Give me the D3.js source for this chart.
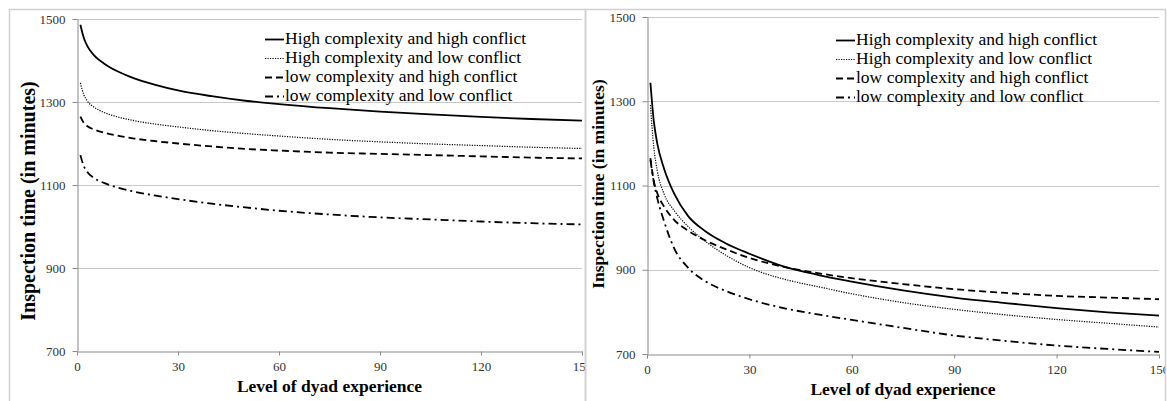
<!DOCTYPE html>
<html>
<head>
<meta charset="utf-8">
<script src="https://cdn.jsdelivr.net/npm/d3@7"></script>
<style>
body { margin: 0; background: #fff; }
svg { display: block; font-family: "Liberation Serif", "Times New Roman", serif; }
</style>
</head>
<body>
<div id="chart"></div>
<script>
// Inspection time curves, two panels

// level of dyad experience where the curves were read
var experience = [1, 2, 3, 5, 8, 12, 17, 23, 30, 40, 50, 60, 75, 90, 105, 120, 135, 150];

var seriesNames = [
    "High complexity and high conflict",
    "High complexity and low conflict",
    "low complexity and high conflict",
    "low complexity and low conflict"
];

// left panel
var leftHighHigh = [1486, 1455, 1436, 1413, 1393, 1374, 1357, 1342, 1328, 1314, 1303, 1295, 1285, 1277, 1270, 1264, 1259, 1255];
var leftHighLow  = [1346, 1318, 1303, 1288, 1275, 1264, 1255, 1247, 1240, 1231, 1224, 1218, 1210, 1204, 1199, 1195, 1191, 1188];
var leftLowHigh  = [1265, 1250, 1242, 1234, 1226, 1219, 1212, 1206, 1200, 1193, 1187, 1183, 1178, 1175, 1172, 1169, 1166, 1164];
var leftLowLow   = [1172, 1146, 1132, 1117, 1105, 1094, 1084, 1075, 1066, 1055, 1046, 1038, 1029, 1022, 1017, 1012, 1008, 1005];

// right panel
var rightHighHigh = [1344, 1252, 1200, 1140, 1080, 1028, 992, 963, 938, 908, 888, 872, 851, 834, 821, 809, 799, 791];
var rightHighLow  = [1291, 1190, 1135, 1080, 1040, 1003, 968, 935, 905, 878, 860, 843, 822, 806, 793, 782, 773, 764];
var rightLowHigh  = [1165, 1110, 1082, 1050, 1018, 993, 970, 949, 928, 907, 892, 880, 866, 854, 845, 838, 834, 830];
var rightLowLow   = [1160, 1108, 1070, 1015, 950, 905, 873, 850, 830, 809, 794, 781, 762, 744, 731, 720, 712, 705];

var xTicks = [0, 30, 60, 90, 120, 150];
var yTicks = [700, 900, 1100, 1300, 1500];

var xTitle = "Level of dyad experience";
var yTitle = "Inspection time (in minutes)";

// line look for each series: solid, dotted, dashed, dash-dot
var dashes = [null, "1.2,1.3", "7,4", "8,4,2,4"];
var widths = [1.8, 1.2, 1.8, 1.8];

var svgWidth = 1167;
var svgHeight = 401;

var svg = d3.select("#chart")
    .append("svg")
    .attr("width", svgWidth)
    .attr("height", svgHeight);

var panels = [
    {
        id: "left",
        frame: { x: 9, y: 9, w: 576, h: 420 },
        plot: { x0: 77, x1: 582, y0: 19, y1: 351 },
        data: [leftHighHigh, leftHighLow, leftLowHigh, leftLowLow],
        yTitleSize: 20, yTitleX: 35, yTitleY: 201,
        xTitleY: 392,
        legendX: 265, legendY: 44
    },
    {
        id: "right",
        frame: { x: 585, y: 9, w: 580, h: 420 },
        plot: { x0: 647, x1: 1159, y0: 17, y1: 354 },
        data: [rightHighHigh, rightHighLow, rightLowHigh, rightLowLow],
        yTitleSize: 17.5, yTitleX: 604, yTitleY: 184,
        xTitleY: 395,
        legendX: 836, legendY: 45
    }
];

panels.forEach(function(p) {
    var clipId = "clip-" + p.id;
    svg.append("clipPath")
        .attr("id", clipId)
        .append("rect")
        .attr("x", p.frame.x)
        .attr("y", p.frame.y)
        .attr("width", p.frame.w)
        .attr("height", p.frame.h);

    var g = svg.append("g").attr("clip-path", "url(#" + clipId + ")");

    var x = d3.scaleLinear().domain([0, 150]).range([p.plot.x0, p.plot.x1]);
    var y = d3.scaleLinear().domain([700, 1500]).range([p.plot.y1, p.plot.y0]);

    // gridlines
    g.append("g")
        .selectAll("line")
        .data(yTicks.slice(1))
        .enter()
        .append("line")
        .attr("x1", p.plot.x0)
        .attr("x2", p.plot.x1)
        .attr("y1", d => Math.round(y(d)) + 0.5)
        .attr("y2", d => Math.round(y(d)) + 0.5)
        .attr("stroke", "#c9c9c9")
        .attr("stroke-width", 1);

    // axes
    var xAxis = g.append("g")
        .attr("transform", `translate(0, ${Math.round(p.plot.y1) + 0.5})`)
        .call(d3.axisBottom(x).tickValues(xTicks).tickFormat(d3.format("d"))
            .tickSize(4).tickSizeOuter(0).tickPadding(6));
    var yAxis = g.append("g")
        .attr("transform", `translate(${Math.round(p.plot.x0) + 0.5}, 0)`)
        .call(d3.axisLeft(y).tickValues(yTicks).tickFormat(d3.format("d"))
            .tickSize(5).tickSizeOuter(0).tickPadding(7));

    [xAxis, yAxis].forEach(function(a) {
        a.attr("font-family", "Liberation Serif").attr("font-size", 13);
        a.select(".domain").attr("stroke", "#8a8a8a");
        a.selectAll(".tick line").attr("stroke", "#8a8a8a");
        a.selectAll(".tick text").attr("fill", "#333");
    });

    // curves
    var line = d3.line()
        .x((d, i) => x(experience[i]))
        .y(d => y(d))
        .curve(d3.curveMonotoneX);

    p.data.forEach(function(series, k) {
        g.append("path")
            .datum(series)
            .attr("d", line)
            .attr("fill", "none")
            .attr("stroke", "#000")
            .attr("stroke-width", widths[k])
            .attr("stroke-dasharray", dashes[k]);
    });

    // legend
    var legend = g.append("g");
    seriesNames.forEach(function(name, k) {
        var by = p.legendY + k * 19;
        legend.append("line")
            .attr("x1", p.legendX)
            .attr("x2", p.legendX + 19)
            .attr("y1", by - 4.5)
            .attr("y2", by - 4.5)
            .attr("stroke", "#000")
            .attr("stroke-width", widths[k])
            .attr("stroke-dasharray", dashes[k]);
        legend.append("text")
            .attr("x", p.legendX + 20)
            .attr("y", by)
            .style("font-size", "17.5px")
            .text(name);
    });

    // axis titles
    g.append("text")
        .attr("x", (p.plot.x0 + p.plot.x1) / 2)
        .attr("y", p.xTitleY)
        .attr("text-anchor", "middle")
        .style("font-weight", "bold")
        .style("font-size", "17.5px")
        .text(xTitle);

    g.append("text")
        .attr("transform", `translate(${p.yTitleX}, ${p.yTitleY}) rotate(-90)`)
        .attr("text-anchor", "middle")
        .style("font-weight", "bold")
        .style("font-size", p.yTitleSize + "px")
        .text(yTitle);

    // panel frame
    svg.append("rect")
        .attr("x", p.frame.x + 0.5)
        .attr("y", p.frame.y + 0.5)
        .attr("width", p.frame.w)
        .attr("height", p.frame.h)
        .attr("fill", "none")
        .attr("stroke", "#d0d0d0")
        .attr("stroke-width", 1.5);
});
</script>
</body>
</html>
